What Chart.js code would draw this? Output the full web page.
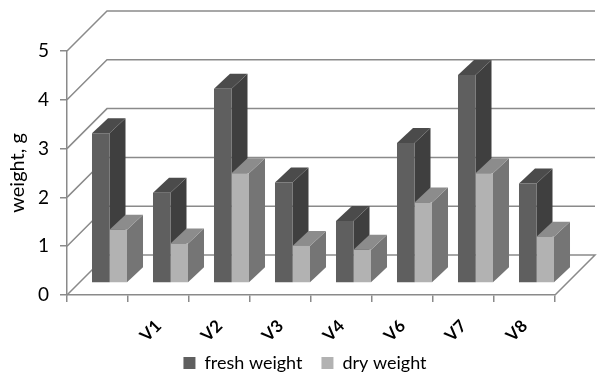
<!DOCTYPE html>
<html>
<head>
<meta charset="utf-8">
<style>html,body{margin:0;padding:0;background:#fff}canvas{display:block}</style>
<script src="https://cdn.jsdelivr.net/npm/chart.js@4"></script>
</head>
<body>
<canvas id="c" width="600" height="382"></canvas>
<script>
const categories = ['', 'V1', 'V2', 'V3', 'V4', 'V6', 'V7', 'V8'];
const freshWeight = [3.07, 1.85, 3.98, 2.06, 1.27, 2.87, 4.26, 2.04];
const dryWeight = [1.09, 0.81, 2.25, 0.76, 0.68, 1.65, 2.25, 0.95];
const seriesNames = ['fresh weight', 'dry weight'];
const frontColors = ['#5f5f5f', '#b2b2b2'];
const sideColors = ['#3f3f3f', '#757575'];
const topColors = ['#4b4b4b', '#8c8c8c'];
const yTicks = [0, 1, 2, 3, 4, 5];

const FONT = 'Lato';
const LINE = '#8a8a8a';
const WALL = 40, PLANE = 12, DX = 16, DY = 15;

function poly(ctx, pts, fill) {
  ctx.fillStyle = fill;
  ctx.beginPath();
  pts.forEach((p, i) => i ? ctx.lineTo(p[0], p[1]) : ctx.moveTo(p[0], p[1]));
  ctx.closePath();
  ctx.fill();
}

const threeD = {
  id: 'threeD',
  afterLayout(chart) {
    // let the rotated tick labels run past the axis box, above the legend
    chart.scales.x.bottom += 30;
  },
  beforeDatasetsDraw(chart) {
    const { ctx, chartArea: a, scales: { y } } = chart;
    ctx.save();
    ctx.strokeStyle = LINE;
    ctx.lineWidth = 1.5;
    yTicks.forEach(v => {
      const p = y.getPixelForValue(v);
      ctx.beginPath();
      ctx.moveTo(a.left, p);
      ctx.lineTo(a.left + WALL, p - WALL);
      ctx.lineTo(a.right + WALL, p - WALL);
      if (v === 0) ctx.lineTo(a.right, p);
      ctx.stroke();
    });
    // side and top faces: fresh first, so the dry bars cover them
    ctx.translate(PLANE, -PLANE);
    [0, 1].forEach(i => {
      chart.getDatasetMeta(i).data.forEach(b => {
        const l = b.x - b.width / 2, r = b.x + b.width / 2;
        poly(ctx, [[r, b.y], [r + DX, b.y - DY], [r + DX, b.base - DY], [r, b.base]], sideColors[i]);
        poly(ctx, [[l, b.y], [l + DX, b.y - DY], [r + DX, b.y - DY], [r, b.y]], topColors[i]);
      });
    });
    ctx.restore();
  },
  beforeDatasetDraw(chart) {
    chart.ctx.save();
    chart.ctx.translate(PLANE, -PLANE);
  },
  afterDatasetDraw(chart) {
    chart.ctx.restore();
  }
};

new Chart(document.getElementById('c'), {
  type: 'bar',
  data: {
    labels: categories,
    datasets: [
      { label: seriesNames[0], data: freshWeight, backgroundColor: frontColors[0], clip: false,
        categoryPercentage: 0.574, barPercentage: 1 },
      { label: seriesNames[1], data: dryWeight, backgroundColor: frontColors[1], clip: false,
        categoryPercentage: 0.574, barPercentage: 1 }
    ]
  },
  plugins: [threeD],
  options: {
    responsive: false,
    animation: false,
    devicePixelRatio: 1,
    layout: { padding: { left: 10, right: 0, top: 51, bottom: 0 } },
    plugins: {
      tooltip: { enabled: false },
      title: { display: false },
      legend: {
        position: 'bottom',
        labels: {
          boxWidth: 12, boxHeight: 12, padding: 19,
          color: '#000', font: { family: FONT, size: 18 }
        }
      }
    },
    scales: {
      x: {
        grid: { drawOnChartArea: false, color: LINE, lineWidth: 1.5, tickLength: 7 },
        border: { color: LINE, width: 1.5 },
        ticks: {
          autoSkip: false, minRotation: 45, maxRotation: 45, padding: 14,
          color: '#000', font: { family: FONT, size: 17, weight: 'bold' }
        },
        afterFit(s) { s.height = 40; }
      },
      y: {
        min: 0, max: 5,
        grid: { drawOnChartArea: false, color: LINE, lineWidth: 1.5, tickLength: 7 },
        border: { color: LINE, width: 1.5 },
        ticks: { stepSize: 1, padding: 11, color: '#000', font: { family: FONT, size: 19 } },
        title: { display: true, text: 'weight, g', color: '#000', font: { family: FONT, size: 20 }, padding: { top: -4, bottom: 0 } },
        afterFit(s) { s.width = 57; }
      },
      spacer: {
        type: 'linear', position: 'right', display: true,
        grid: { display: false }, border: { display: false }, ticks: { display: false },
        afterFit(s) { s.width = 45; }
      }
    }
  }
});
</script>
</body>
</html>
